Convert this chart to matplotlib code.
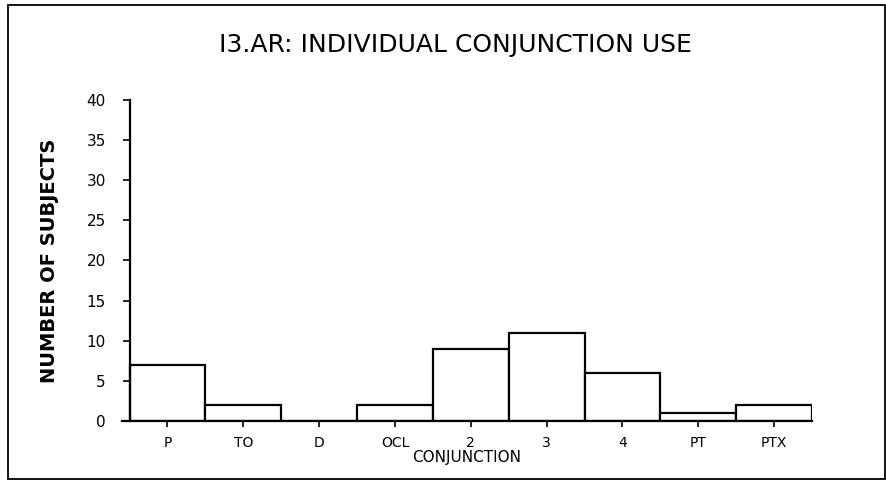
import matplotlib
matplotlib.use("Agg")
import matplotlib.pyplot as plt
from matplotlib.patches import Rectangle

categories = ["P", "TO", "D", "OCL", "2", "3", "4", "PT", "PTX"]
subjects = [7, 2, 0, 2, 9, 11, 6, 1, 2]
y_ticks = [0, 5, 10, 15, 20, 25, 30, 35, 40]

fig = plt.figure(figsize=(8.87, 4.87), dpi=100)
fig.patch.set_facecolor("white")

# outer frame around the whole figure
fig.add_artist(Rectangle((8 / 887, 1 - 479 / 487), 877 / 887, 474 / 487,
                         transform=fig.transFigure, fill=False,
                         edgecolor="black", linewidth=1.3))

ax = fig.add_axes([122 / 887, 1 - 421 / 487, 690 / 887, 321 / 487])
x = list(range(len(categories)))
ax.bar(x, subjects, width=1.0, facecolor="white", edgecolor="black",
       linewidth=1.6, align="center")

ax.set_xlim(-0.6, 8.5)
ax.set_ylim(0, 40)
ax.spines["top"].set_visible(False)
ax.spines["right"].set_visible(False)
ax.spines["left"].set_position(("data", -0.5))
ax.spines["left"].set_linewidth(1.6)
ax.spines["bottom"].set_linewidth(1.6)

ax.set_yticks(y_ticks)
ax.set_yticklabels([str(v) for v in y_ticks], fontsize=11)
ax.set_xticks(x)
ax.set_xticklabels(categories, fontsize=10)
ax.tick_params(axis="y", direction="out", length=5, width=1.2, pad=12)
ax.tick_params(axis="x", direction="out", length=4, width=1.2, pad=7)

ax.set_xlabel("CONJUNCTION", fontsize=11, labelpad=0)
ax.set_ylabel("NUMBER OF SUBJECTS", fontsize=14, fontweight="bold",
              labelpad=20)

fig.text(0.513, 1 - 45 / 487, "I3.AR: INDIVIDUAL CONJUNCTION USE",
         ha="center", va="center", fontsize=18)

fig.savefig("out.png", dpi=100)
